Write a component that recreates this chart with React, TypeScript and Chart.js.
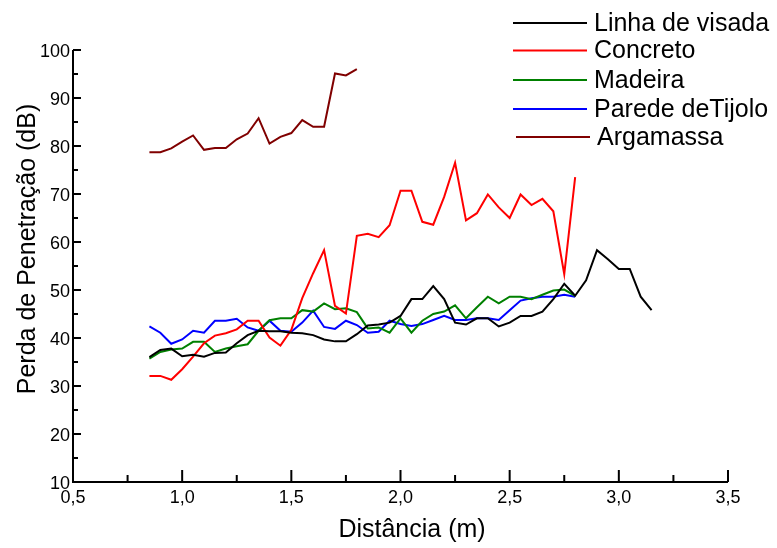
import React, { useEffect, useRef } from "react";
import { Chart, registerables } from "chart.js";

Chart.register(...registerables);

// Distance (m) sampling positions
const distances = [
  0.85, 0.9, 0.95, 1.0, 1.05, 1.1, 1.15, 1.2, 1.25, 1.3, 1.35, 1.4, 1.45, 1.5, 1.55, 1.6,
  1.65, 1.7, 1.75, 1.8, 1.85, 1.9, 1.95, 2.0, 2.05, 2.1, 2.15, 2.2, 2.25, 2.3, 2.35, 2.4,
  2.45, 2.5, 2.55, 2.6, 2.65, 2.7, 2.75, 2.8, 2.85, 2.9, 2.95, 3.0, 3.05, 3.1, 3.15,
];

const linhaDeVisada = [
  36.0, 37.5, 37.8, 36.2, 36.5, 36.1, 36.9, 37.0, 38.9, 40.6, 41.5, 41.4, 41.4, 41.1, 41.0, 40.6,
  39.7, 39.3, 39.3, 40.8, 42.6, 42.8, 43.2, 44.6, 48.1, 48.1, 50.8, 48.1, 43.2, 42.8, 44.1, 44.1,
  42.4, 43.2, 44.6, 44.6, 45.5, 48.1, 51.3, 48.8, 52.0, 58.3, 56.4, 54.4, 54.4, 48.6, 45.8,
];

const concreto = [
  32.1, 32.1, 31.3, 33.5, 36.1, 38.9, 40.5, 41.0, 41.8, 43.6, 43.6, 40.1, 38.4, 41.7, 48.3, 53.5,
  58.3, 46.7, 45.1, 61.3, 61.7, 61.0, 63.5, 70.7, 70.7, 64.2, 63.6, 69.4, 76.5, 64.5, 66.0, 69.9,
  67.2, 65.0, 69.9, 67.7, 69.0, 66.4, 53.3, 73.5,
];

const madeira = [
  35.7, 37.1, 37.6, 37.8, 39.2, 39.2, 37.1, 37.8, 38.3, 38.7, 41.5, 43.7, 44.1, 44.1, 45.8, 45.5,
  47.2, 46.0, 46.2, 45.4, 42.0, 42.2, 41.1, 44.1, 41.1, 43.6, 45.0, 45.5, 46.8, 44.1, 46.4, 48.6,
  47.2, 48.6, 48.6, 48.1, 49.0, 49.9, 50.1, 48.8,
];

const paredeDeTijolo = [
  42.4, 41.1, 38.8, 39.7, 41.5, 41.1, 43.6, 43.6, 44.0, 42.2, 41.5, 43.6, 41.5, 41.3, 43.2, 45.7,
  42.3, 41.9, 43.6, 42.7, 41.1, 41.3, 43.6, 42.9, 42.5, 42.9, 43.75, 44.6, 43.75, 43.75, 44.1, 44.1,
  43.75, 45.8, 47.8, 48.3, 48.6, 48.6, 49.0, 48.6,
];

const argamassa = [
  78.7, 78.7, 79.5, 80.9, 82.2, 79.2, 79.6, 79.6, 81.4, 82.6, 85.8, 80.5, 81.9, 82.7, 85.4, 84.0,
  84.0, 95.1, 94.7, 96.0,
];

const seriesLabels = ["Linha de visada", "Concreto", "Madeira", "Parede deTijolo", "Argamassa"];
const seriesColors = ["#000000", "#ff0000", "#008000", "#0000ff", "#800000"];

const xTicks = [0.5, 1.0, 1.5, 2.0, 2.5, 3.0, 3.5];
const xTickLabels = ["0,5", "1,0", "1,5", "2,0", "2,5", "3,0", "3,5"];
const xMinorTicks = [0.75, 1.25, 1.75, 2.25, 2.75, 3.25];
const yTicks = [10, 20, 30, 40, 50, 60, 70, 80, 90, 100];
const yMinorTicks = [15, 25, 35, 45, 55, 65, 75, 85, 95];

const xTitle = "Distância (m)";
const yTitle = "Perda de Penetração (dB)";

const FONT = "'Liberation Sans', Arial, sans-serif";

const toPoints = (vals: number[]) => vals.map((v, i) => ({ x: distances[i], y: v }));

const customAxes = {
  id: "customAxes",
  afterDraw(chart: any) {
    const ctx: CanvasRenderingContext2D = chart.ctx;
    const xs = chart.scales.x;
    const ys = chart.scales.y;
    const area = chart.chartArea;
    ctx.save();
    ctx.strokeStyle = "#000";
    ctx.fillStyle = "#000";
    ctx.lineWidth = 2;
    ctx.lineCap = "butt";

    // axis lines
    ctx.beginPath();
    ctx.moveTo(area.left, area.top);
    ctx.lineTo(area.left, area.bottom);
    ctx.lineTo(area.right, area.bottom);
    ctx.stroke();

    // y ticks (inside)
    ctx.beginPath();
    yTicks.forEach((v) => {
      const p = ys.getPixelForValue(v);
      ctx.moveTo(area.left, p);
      ctx.lineTo(area.left + 8, p);
    });
    yMinorTicks.forEach((v) => {
      const p = ys.getPixelForValue(v);
      ctx.moveTo(area.left, p);
      ctx.lineTo(area.left + 5, p);
    });
    // x ticks (inside)
    xTicks.forEach((v) => {
      const p = xs.getPixelForValue(v);
      ctx.moveTo(p, area.bottom);
      ctx.lineTo(p, area.bottom - 12);
    });
    xMinorTicks.forEach((v) => {
      const p = xs.getPixelForValue(v);
      ctx.moveTo(p, area.bottom);
      ctx.lineTo(p, area.bottom - 7);
    });
    ctx.stroke();

    // tick labels
    ctx.font = `18px ${FONT}`;
    ctx.textAlign = "right";
    ctx.textBaseline = "middle";
    yTicks.forEach((v) => {
      ctx.fillText(String(v), area.left - 3, ys.getPixelForValue(v) + 2);
    });
    ctx.textAlign = "center";
    xTicks.forEach((v, i) => {
      ctx.fillText(xTickLabels[i], xs.getPixelForValue(v), area.bottom + 16);
    });

    // axis titles
    ctx.font = `25px ${FONT}`;
    ctx.textAlign = "center";
    ctx.textBaseline = "middle";
    ctx.fillText(xTitle, 412, 530);
    ctx.save();
    ctx.translate(28, 249);
    ctx.rotate(-Math.PI / 2);
    ctx.fillText(yTitle, 0, 0);
    ctx.restore();

    // legend
    const rowYs = [23, 50.5, 80, 109, 137];
    ctx.font = `25px ${FONT}`;
    ctx.textAlign = "left";
    ctx.textBaseline = "middle";
    chart.data.datasets.forEach((ds: any, i: number) => {
      const y = rowYs[i];
      const off = i === 4 ? 3 : 0;
      ctx.strokeStyle = ds.borderColor;
      ctx.lineWidth = 2;
      ctx.beginPath();
      ctx.moveTo(513 + off, y);
      ctx.lineTo(587 + off, y);
      ctx.stroke();
      ctx.fillStyle = "#000";
      ctx.fillText(ds.label, 594 + off, y + 1);
    });

    ctx.restore();
  },
};

export default function App() {
  const canvasRef = useRef<HTMLCanvasElement | null>(null);

  useEffect(() => {
    document.body.style.margin = "0";
    const canvas = canvasRef.current;
    if (!canvas) return;
    const allValues = [linhaDeVisada, concreto, madeira, paredeDeTijolo, argamassa];
    const chart = new Chart(canvas, {
      type: "line",
      data: {
        datasets: allValues.map((vals, i) => ({
          label: seriesLabels[i],
          data: toPoints(vals),
          borderColor: seriesColors[i],
          backgroundColor: seriesColors[i],
          borderWidth: 2,
          pointRadius: 0,
          tension: 0,
          fill: false,
        })),
      },
      options: {
        animation: false,
        responsive: false,
        maintainAspectRatio: false,
        layout: { padding: { left: 73, right: 49, top: 50, bottom: 66 } },
        plugins: {
          legend: { display: false },
          tooltip: { enabled: false },
          title: { display: false },
        },
        scales: {
          x: { type: "linear", min: 0.5, max: 3.5, display: false },
          y: { type: "linear", min: 10, max: 100, display: false },
        },
      },
      plugins: [customAxes],
    });
    return () => chart.destroy();
  }, []);

  return (
    <div style={{ width: 777, height: 548, background: "#fff" }}>
      <canvas ref={canvasRef} width={777} height={548} />
    </div>
  );
}
